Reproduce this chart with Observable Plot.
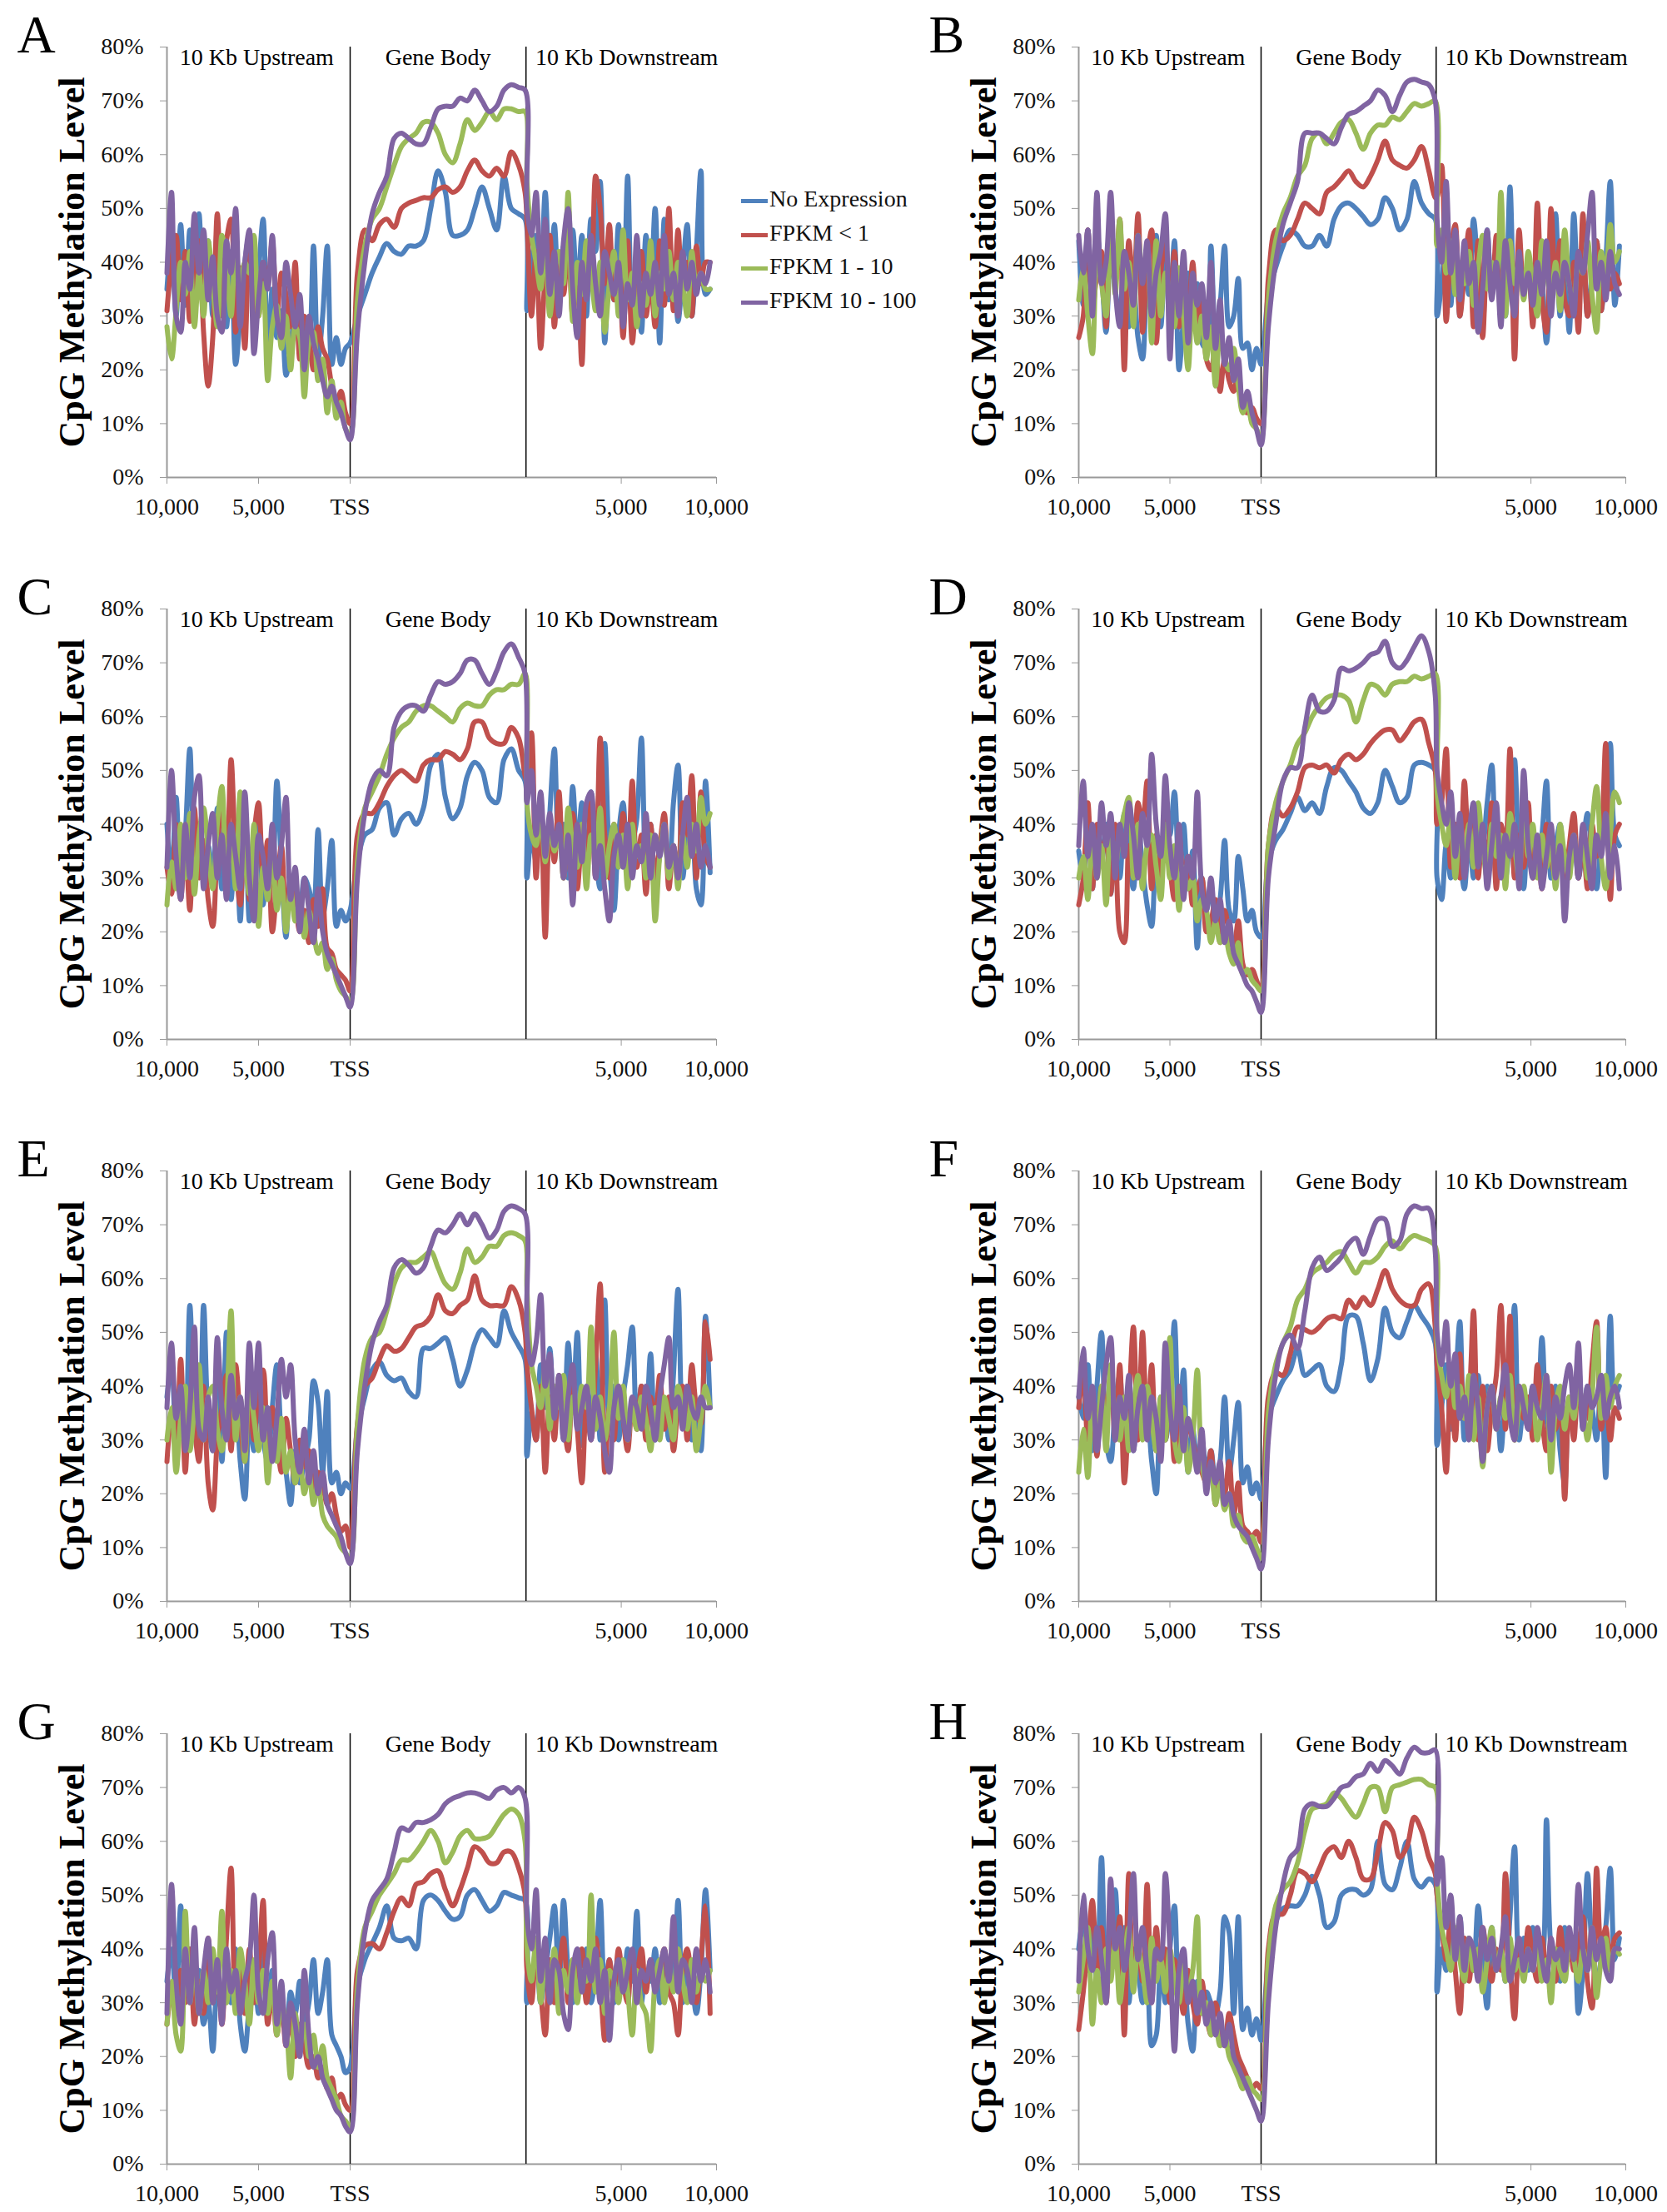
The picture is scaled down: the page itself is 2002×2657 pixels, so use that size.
<!DOCTYPE html>
<html><head><meta charset="utf-8">
<script src="https://cdn.jsdelivr.net/npm/d3@7"></script>
<script src="https://cdn.jsdelivr.net/npm/@observablehq/plot@0.6"></script>
<style>
body{margin:0;background:#fff;}
#fig{position:relative;width:2002px;height:2657px;background:#fff;overflow:hidden;}
.panel{position:absolute;}
.legend{position:absolute;font-family:'Liberation Serif','Times New Roman',serif;font-size:28px;color:#111;}
.legend div{height:40.6px;line-height:40.6px;white-space:nowrap;}
.legend span.sw{display:inline-block;width:32px;height:5px;vertical-align:middle;margin-right:2px;}
</style></head><body><div id="fig"></div>
<script>
// ---- labels / ticks ----
const seriesNames = ["No Expression", "FPKM < 1", "FPKM 1 - 10", "FPKM 10 - 100"];
const seriesColors = ["#4F81BD", "#C0504D", "#9BBB59", "#8064A2"];
const panelLetters = ["A", "B", "C", "D", "E", "F", "G", "H"];
const yTicks = [0, 10, 20, 30, 40, 50, 60, 70, 80];
const xTickPos = [0, 50, 100, 248, 300];
const xTickLabels = ["10,000", "5,000", "TSS", "5,000", "10,000"];
const regionLabels = ["10 Kb Upstream", "Gene Body", "10 Kb Downstream"];
const regionCenters = [49, 148, 251];
const regionBoundaries = [100, 196];

// ---- data (% methylation): 41 upstream bins, 24 gene-body bins, 41 downstream bins ----
const A_noExp = [35,44,30,47,32,46,29,49,33,44,30,46,38,28,42,21,30,40,45,28,38,48,22,35,26,31,19,24,30,28,28,24,43,22,30,43,21,26,21,24,25,
 30,34,38,41,43.5,42,41.5,43,43,44,50,57,53,45,45,46,50,54,50,46,56,50,49,48,
 31,40,45,37,53,36,47,32,43,38,46,34,45,30,48,42,55,25,40,33,47,28,56,30,38,27,45,35,50,25,48,33,40,29,38,47,30,42,57,34,35];
const A_lt1 = [31,40,45,33,42,29,38,44,27,17,26,49,30,44,48,27,39,24,42,35,30,40,36,44,30,38,34,28,40,22,30,26,20,28,24,22,17,14,16,12,10,
 38,46,44,47,48,46.5,50,51,51.5,52,52,53.5,54,53,54,57,59,57,56,57.5,56,60.5,58,53,
 48,30,42,24,38,45,28,40,34,44,30,38,21,42,36,56,50,36,47,33,40,26,44,25,36,42,30,36,28,44,32,50,31,46,34,40,30,43,36,40,40];
const A_1to10 = [28,22,31,40,34,42,28,38,30,44,36,28,45,39,30,43,35,40,38,45,30,36,18,28,32,24,30,20,28,26,15,25,27,18,22,12,18,11,14,9,8,
 33,43,48,50,54,58,61.5,63,64,66,66,64,60,58.5,62,66.5,64.5,66,68,66.5,68.5,68.5,68,68,
 55,45,40,35,44,30,38,42,36,53,29,40,34,44,38,31,40,27,36,42,30,46,33,38,28,36,32,44,30,38,35,42,33,40,36,30,42,36,38,35,35];
const A_10to100 = [38,53,30,27,40,35,49,38,46,33,41,30,27,44,38,50,28,40,46,23,33,40,35,45,30,26,40,34,28,34,20,30,25,22,18,15,17,14,12,9,7,
 27,40,49,53,56,63,64,63,62,62,65,68.5,69,69,70.5,70,72,70,68,69,72,73,72.5,72,
 50,45,53,38,48,34,42,30,44,50,35,26,40,33,45,36,30,42,38,34,40,28,36,32,45,30,38,34,40,32,45,34,38,30,42,35,40,34,38,36,40];

const B_noExp = [44,32,46,30,45,38,27,42,35,30,40,28,36,26,22,38,30,45,28,40,33,44,20,30,38,28,36,25,24,43,26,32,43,28,30,37,24,25,20,24,21,
 34,39,43,46,45,43,43,45,43,48,50.5,51,50,48.5,47,48,52,50,46,48,55,51,49,48,
 30,36,44,32,46,30,40,34,48,38,28,46,34,39,42,30,54,31,42,35,38,30,40,36,25,38,49,30,40,27,49,35,42,30,38,44,31,40,55,32,43];
const B_lt1 = [26,30,46,31,38,42,28,45,36,48,20,44,35,49,27,40,46,25,38,44,32,42,28,38,30,40,29,34,22,20,24,16,22,18,16,20,13,12,13,11,10,
 37,46,44,45,48,51,50,49,53,54,55.5,57,55,54,56,59,62.5,59,58,57.5,59,61.5,57,52,
 52,58,29,42,47,30,38,46,28,44,26,40,34,45,30,38,44,22,46,35,40,28,51,33,27,50,36,44,33,30,40,27,49,30,36,44,31,40,35,38,36];
const B_1to10 = [33,39,30,23,41,36,30,47,34,48,35,40,28,45,38,42,25,44,30,38,34,28,39,30,20,33,25,30,22,28,17,27,22,20,24,17,12,14,10,9,7,
 33,44,49,52,56,58,63,64,62,64,66,66.5,64,61,64,65.5,65.5,67,66.5,68,69.5,69,69.5,70,
 43,46,38,44,34,40,36,42,32,39,45,35,40,38,53,30,44,36,40,33,42,36,30,44,38,34,40,31,46,36,32,40,38,44,34,27,42,38,47,40,42];
const B_10to100 = [45,38,46,30,53,36,40,53,35,28,42,38,32,45,36,44,30,38,42,49,22,40,30,42,25,38,32,36,26,40,24,33,21,26,18,22,13,16,12,9,6,
 28,40,47,51,55,64,64,64,63,62,65,67.5,68,69,70,72,71,68,71,73.5,74,73.5,73,70,
 48,40,55,38,46,33,44,36,40,27,35,46,33,40,28,44,36,30,42,34,38,32,40,34,44,30,38,34,40,36,30,42,38,45,53,35,40,33,42,36,34];

const C_noExp = [40,30,45,28,38,54,28,38,32,36,30,43,28,36,26,40,22,44,22,35,40,25,36,30,48,32,19,30,26,22,30,28,24,39,23,28,37,21,24,22,24,
 33,38,39,43,44,38,41,42,40,43,51,53,45,41,43,49,51.5,50,45,44,52,54,50,48,
 30,38,33,44,28,42,54,36,40,30,47,35,44,30,46,34,28,55,33,24,38,44,30,36,41,56,32,40,29,34,38,30,44,51,30,38,42,28,25,48,31];
const C_lt1 = [32,27,40,26,36,24,43,30,37,26,21,36,44,30,52,34,25,40,26,38,44,30,37,20,28,36,22,30,26,20,24,18,26,21,28,17,16,13,12,11,9,
 38,42,42,44,47,49,50,49,48,51,52,52,53.5,53,52,54,59,59,56,55,55,58,56,49,
 48,57,30,44,19,40,33,46,30,38,42,28,36,32,44,30,56,38,30,40,34,42,30,48,32,38,27,40,30,36,42,28,36,30,44,38,49,30,46,34,32];
const C_1to10 = [25,33,28,40,30,42,27,38,43,35,28,40,47,30,38,28,46,34,27,40,21,32,26,35,24,30,20,28,22,26,19,24,20,16,18,13,15,11,9,8,7,
 33,43,46,49,53,56,58,59,61,62,62,61,60,59,61.5,62.5,62,62,64,65,65,66,66,68,
 44,38,36,42,33,40,35,38,30,43,36,32,40,28,38,34,43,30,36,40,32,38,28,40,34,36,30,38,22,34,40,30,36,28,38,32,40,35,45,40,42];
const C_10to100 = [32,50,34,26,40,30,45,49,28,36,42,30,38,26,40,34,28,46,30,22,38,34,28,40,30,36,45,26,32,20,30,24,18,28,20,16,14,12,10,8,6,
 30,42,48,50,49,58,61,62,62,61,64,66.5,66,66.5,68,70.5,70.5,68,66,68.5,72,73.5,71,68,
 44,50,38,46,34,42,36,40,30,38,25,40,33,44,46,30,36,28,22,34,38,32,40,30,36,33,42,30,38,34,40,32,36,30,38,45,34,40,32,36,32];

const D_noExp = [35,30,42,28,38,33,40,27,36,30,42,34,28,40,32,25,21,36,30,44,38,46,32,40,28,35,17,30,24,28,22,26,37,24,22,34,28,22,24,20,19,
 33,37,39,42,45,42.5,44,42,47,50.5,50,48,46,43,42,44,50,47,44,45,51,51.5,51,50,
 30,26,36,30,40,34,28,38,30,42,36,44,51,33,40,30,38,52,34,28,40,36,32,38,48,30,36,40,28,34,38,30,36,42,34,28,38,44,55,38,36];
const D_lt1 = [25,30,44,28,40,34,38,27,40,20,18,36,30,44,40,48,28,38,30,44,32,26,38,30,34,25,28,30,20,22,26,18,24,20,17,22,14,12,13,11,9,
 36,43,41.5,43,46,50.5,51,50.5,51,49.5,52,53,52,53,55,56.5,57.5,57.5,55.5,57,59,59.5,55,50,
 40,44,54,32,40,30,48,36,42,30,38,34,44,28,40,36,54,30,38,32,44,30,36,28,40,34,30,38,28,36,42,30,36,28,40,34,38,55,26,38,40];
const D_1to10 = [30,34,26,38,30,36,25,40,32,38,42,45,30,40,28,36,38,32,26,40,30,36,24,32,28,30,22,26,24,18,22,18,20,16,14,18,12,13,11,10,9,
 36,44,48,51,55,57,60,62,63.5,64,64,63,59,63,66,65.5,64,66,66.5,66.5,67.5,67,67.5,68,
 46,40,36,42,30,38,34,40,32,44,36,30,40,34,38,28,42,36,30,48,34,40,30,38,32,36,28,40,34,30,38,32,36,30,40,47,34,28,38,46,44];
const D_10to100 = [36,48,34,40,30,44,36,42,30,40,34,44,38,30,42,36,53,40,34,49,36,30,40,26,34,30,46,28,24,30,22,26,18,22,16,14,12,10,9,7,5,
 30,40,48,50.5,50.5,58,64,61,61,63,69,68.5,69,70,71.5,72,74,70,69,70.5,73,75,72,64,
 50,44,40,46,34,42,30,38,44,32,40,28,36,44,30,38,34,40,28,50,36,30,38,28,34,40,30,36,22,34,38,30,40,34,28,38,34,42,30,36,28];

const E_noExp = [38,44,30,40,28,55,36,30,55,34,28,40,26,50,32,38,26,19,34,28,38,30,26,36,44,30,24,18,28,22,26,30,41,37,24,39,22,24,20,22,21,
 32,38,43,44.5,42,41,41.5,39,38,47,47,48,49,45,40,43,48,50.5,49,47.5,54,50,47.5,45,
 27,35,30,44,36,47,33,42,30,48,36,50,29,40,34,46,30,56,33,40,30,38,44,51,32,40,34,46,30,38,36,30,42,58,34,40,30,36,28,53,36];
const E_lt1 = [26,34,30,45,24,38,32,26,40,22,17,30,36,42,28,44,34,26,38,30,40,43,28,36,30,24,34,28,22,30,25,28,20,24,22,18,20,16,13,14,10,
 33,40,41.5,45,47.5,46.5,47,49,51,51.5,53,57,54,53.5,55,56,60.5,56,55,55,55,58.5,56,50,
 44,36,30,40,24,38,30,42,34,28,40,32,22,36,30,44,59,24,36,30,40,34,28,36,32,40,30,38,34,42,32,38,28,36,40,30,44,36,33,52,45];
const E_1to10 = [30,36,24,34,40,28,36,44,30,38,40,32,28,36,54,30,38,26,40,34,28,36,22,30,26,34,24,28,22,26,20,24,18,22,16,14,13,12,10,9,8,
 33,45,49,50,54,59,62,63,63,64,65,62,59,58,61,65.5,63,64,66,66,68,68.5,68,67,
 58,44,40,36,44,32,40,36,42,30,38,34,40,36,51,32,38,30,36,50,34,40,30,36,32,38,34,28,36,30,38,34,30,40,36,32,38,28,34,40,36];
const E_10to100 = [36,48,34,40,28,36,51,32,30,38,28,49,36,30,42,34,38,28,48,36,48,30,36,26,34,45,38,44,30,24,32,22,28,20,24,18,16,14,12,9,7,
 28,40,48,52,55,62,63.5,62.5,61,62,66,69,68.5,70,72,70,72,70,67.5,69,72.5,73.5,73,72,
 50,44,48,57,40,46,34,42,30,38,44,32,36,40,30,38,34,28,24,36,40,34,30,38,36,32,40,36,30,38,44,49,36,38,32,40,36,34,38,36,36];

const F_noExp = [38,34,44,28,40,50,30,26,36,42,30,36,28,40,32,34,26,20,38,30,36,52,30,43,24,32,26,30,24,28,22,26,38,24,30,37,22,25,20,22,19,
 34,38,41,43,47,42,43,44,40,39,44,53,53,48,41,45,54.5,50,49,52,55,53,51,48,
 29,36,44,32,40,52,30,38,34,42,30,40,34,36,28,38,42,55,30,36,32,40,38,49,34,30,40,28,22,36,38,44,32,40,36,30,42,23,53,38,40];
const F_lt1 = [36,42,30,38,27,40,34,42,30,44,22,36,51,30,50,32,44,28,36,30,40,26,34,28,33,30,26,24,22,28,18,24,20,26,16,22,14,13,12,13,11,
 38,42.5,42,46,51,50.5,50,51,52.5,53,52.5,56,54.5,56.5,55,58,61.5,58,56,55,55,58,59,51,
 44,36,24,40,30,46,34,38,54,30,40,28,36,42,55,32,53,30,40,34,38,30,44,34,28,40,32,36,19,38,30,40,36,34,44,52,32,38,30,36,34];
const F_1to10 = [24,32,23,38,30,40,28,44,34,30,38,28,36,42,30,40,34,28,38,30,49,30,26,36,24,30,43,26,22,24,18,22,17,20,14,16,12,11,12,10,8,
 35,44,48,51,56,58,61,62,63,64.5,65,63,61,63,63,64,66,67,65.5,67,68,67.5,67,66,
 48,42,38,44,36,40,34,42,30,38,25,36,40,32,38,34,42,30,36,40,34,38,30,36,42,24,36,40,32,38,34,40,36,30,38,51,34,42,36,40,42];
const F_10to100 = [38,47,34,40,28,36,44,49,30,38,34,42,28,36,40,30,38,34,26,48,36,30,40,28,34,30,24,32,20,26,22,26,18,20,16,14,13,12,10,8,6,
 30,42,48,49.5,47,54,62,64,61.5,62.5,64,66.5,67.5,64.5,68,71,71,66,67,72,73.5,73,73,65,
 50,44,52,40,46,34,38,30,42,36,26,36,40,32,38,44,34,30,40,36,32,40,36,34,42,30,38,34,40,44,36,48,32,40,36,38,42,34,38,40,36];

const G_noExp = [34,40,30,48,32,40,28,36,26,30,21,34,28,38,30,40,26,21,30,36,28,40,30,36,26,30,24,32,28,34,26,30,38,28,32,38,24,22,20,17,18,
 33,38,41,44,48,42,41.5,42,40,49,50,49,47,45.5,46,50,51,49,47,48,50.5,50,49.5,49,
 30,34,40,30,36,42,48,32,49,36,30,38,34,40,30,36,49,32,38,30,36,32,40,34,47,30,36,34,40,30,38,34,36,49,30,38,34,28,36,51,36];
const G_lt1 = [26,32,28,36,30,40,26,34,28,42,30,36,26,42,55,30,36,28,40,30,36,49,26,32,24,30,22,28,20,26,22,18,20,16,18,14,16,12,13,11,10,
 36,40.5,41,40,43,47,49.5,48,52,52.5,54,54.5,51,48,51,55,59,58,56,56,58,58,55,50,
 36,30,40,32,24,38,30,36,42,30,38,34,40,30,36,42,34,23,38,32,40,34,30,38,36,40,32,38,34,36,40,32,30,24,36,40,34,30,38,48,28];
const G_1to10 = [26,34,24,21,47,30,38,28,36,30,40,32,47,30,36,28,40,34,26,38,30,36,28,34,24,30,26,16,28,22,26,20,24,18,22,16,14,12,9,8,7,
 33,44,47,50,52,54,56.5,56.5,58,60,62,60,56,58,61,62,60.5,60.5,61,63,65,66,65,60,
 40,34,42,30,38,34,40,28,36,32,38,30,36,34,50,32,38,28,36,34,30,38,32,24,36,30,28,21,34,38,30,36,32,40,34,30,38,32,36,34,36];
const G_10to100 = [28,52,34,26,40,30,44,28,36,42,30,38,26,40,32,36,28,34,38,50,32,28,38,43,26,34,22,30,26,20,36,24,18,20,16,14,12,10,9,7,6,
 30,43,49,51,53,58,62.5,62,63.5,63.5,64,65,67,68,68.5,69,69,68.5,68,69.5,70,69,70,68,
 46,40,51,34,42,30,38,36,28,25,36,40,32,38,34,40,30,36,23,34,38,32,36,40,30,36,34,38,32,36,40,34,46,32,38,36,30,40,34,38,32];

const H_noExp = [40,46,36,44,34,57,38,42,51,36,44,30,40,36,30,34,22,24,38,30,40,48,30,36,26,21,34,28,32,30,28,32,46,43,28,46,25,29,24,27,23,
 38,45,47.5,48,48,50,53.5,50,44,45,50,51,51,50,51,60,52,51,55,60,53,51.5,53,52,
 32,40,36,44,38,46,34,42,36,48,38,29,44,36,40,34,46,59,38,42,36,44,40,38,64,40,36,34,44,38,40,28,36,54,40,34,38,44,55,38,42];
const H_lt1 = [25,32,40,49,36,44,30,42,38,46,24,54,36,40,34,52,30,44,36,40,30,38,34,28,36,30,26,34,28,24,30,26,22,28,24,20,18,16,14,15,14,
 40,46.5,46.5,50,54.5,54,52.5,55,58,59,57,60,57,53,53,58,63.5,62,57,59,64.5,62,57,54,
 50,44,38,46,36,28,42,34,40,36,44,38,34,40,36,54,38,27,40,36,44,38,34,42,36,40,34,44,38,42,36,40,46,34,29,55,40,44,38,42,43];
const H_1to10 = [32,38,44,26,36,30,40,34,42,30,38,44,32,40,36,30,42,34,38,32,40,34,30,38,32,36,46,28,30,24,26,22,24,20,18,16,14,16,14,13,12,
 38,48,51,52.5,56,62,66,66.5,67,69,68,66,64.5,67,70,70,65.5,70,70.5,71,71.5,71.5,70.5,70,
 53,44,40,36,44,38,34,42,36,40,32,38,44,36,40,34,42,36,38,34,40,36,42,34,38,30,40,36,34,42,38,34,40,36,44,31,38,42,36,40,39];
const H_10to100 = [34,50,40,36,44,38,30,53,40,44,36,42,54,38,44,36,30,40,38,54,40,21,36,40,30,34,28,32,26,30,24,28,22,26,20,18,16,14,12,10,8,
 30,44,52,57,58.5,66,67,66.5,66.5,68,70,70.5,72,72.5,74.5,73,75,74,72.5,75.5,77.5,76.5,76.5,77,
 52,57,44,50,38,46,36,42,40,34,44,38,42,36,40,46,34,38,42,36,40,36,44,38,34,42,38,40,36,44,38,52,40,36,44,38,42,36,34,40,40];

const panelSeries = [
  [A_noExp, A_lt1, A_1to10, A_10to100],
  [B_noExp, B_lt1, B_1to10, B_10to100],
  [C_noExp, C_lt1, C_1to10, C_10to100],
  [D_noExp, D_lt1, D_1to10, D_10to100],
  [E_noExp, E_lt1, E_1to10, E_10to100],
  [F_noExp, F_lt1, F_1to10, F_10to100],
  [G_noExp, G_lt1, G_1to10, G_10to100],
  [H_noExp, H_lt1, H_1to10, H_10to100]
];

// ---- bin index -> position on the composite axis (upstream 0-100, body 100-196, downstream 196-300) ----
const N_UP = 41, N_BODY = 24;
function binX(i) {
  if (i < N_UP) return i * 2.5;
  const k = i - N_UP;
  if (k < N_BODY) return k < N_BODY - 1 ? 104 + 4 * k : 195.5;
  return 196.5 + 2.5 * (k - N_BODY);
}

const FONT = "'Liberation Serif', 'Times New Roman', Times, serif";
const fig = document.getElementById("fig");
const rowTops = [0, 675, 1350, 2026];
const AXIS_GRAY = "#9a9a9a";

panelSeries.forEach((series, p) => {
  const col = p % 2, row = Math.floor(p / 2);
  const rows = [];
  series.forEach((vals, s) => vals.forEach((v, i) => rows.push({x: binX(i), y: v, s})));
  const marks = [
    Plot.ruleX([0], {stroke: AXIS_GRAY, strokeWidth: 2}),
    Plot.ruleY([0], {stroke: AXIS_GRAY, strokeWidth: 2}),
    Plot.axisY({ticks: yTicks, tickFormat: d => d + "%", tickSize: 8, tickPadding: 20, fontSize: 28, stroke: AXIS_GRAY, fill: "#111", label: null}),
    Plot.axisX({ticks: xTickPos, tickFormat: d => xTickLabels[xTickPos.indexOf(d)], tickSize: 8, tickPadding: 17, fontSize: 28, stroke: AXIS_GRAY, fill: "#111", label: null}),
    Plot.ruleX(regionBoundaries, {stroke: "#000", strokeWidth: 1.5}),
    ...seriesColors.map((c, s) => Plot.line(rows.filter(d => d.s === s), {x: "x", y: "y", stroke: c, strokeWidth: 6, curve: "catmull-rom", strokeLinejoin: "round", strokeLinecap: "round"})),
    Plot.text(regionLabels, {x: (d, i) => regionCenters[i], y: () => 80, text: d => d, dy: 13, fontSize: 28, fill: "#000", lineAnchor: "middle", textAnchor: "middle"}),
    Plot.text([panelLetters[p]], {frameAnchor: "top-left", text: d => d, dx: -180, dy: -13.5, fontSize: 64, fill: "#000", textAnchor: "start", lineAnchor: "middle"}),
    Plot.text(["CpG Methylation Level"], {frameAnchor: "left", text: d => d, rotate: -90, dx: -114, fontSize: 44, fontWeight: "bold", fill: "#000", textAnchor: "middle", lineAnchor: "middle"})
  ];
  const chart = Plot.plot({
    width: 1001, height: 625,
    marginLeft: col ? 294 : 200, marginRight: col ? 50 : 141,
    marginTop: 56, marginBottom: 52,
    x: {domain: [0, 300], axis: null},
    y: {domain: [0, 80], axis: null},
    style: {fontFamily: FONT, background: "white", overflow: "visible"},
    marks
  });
  const div = document.createElement("div");
  div.className = "panel";
  div.style.left = (col * 1001) + "px";
  div.style.top = rowTops[row] + "px";
  div.appendChild(chart);
  fig.appendChild(div);
});

// legend (panel A only)
const leg = document.createElement("div");
leg.className = "legend";
leg.style.left = "890px";
leg.style.top = "219px";
seriesNames.forEach((n, i) => {
  const r = document.createElement("div");
  const sw = document.createElement("span");
  sw.className = "sw"; sw.style.background = seriesColors[i];
  r.appendChild(sw);
  r.appendChild(document.createTextNode(n));
  leg.appendChild(r);
});
fig.appendChild(leg);
</script></body></html>
